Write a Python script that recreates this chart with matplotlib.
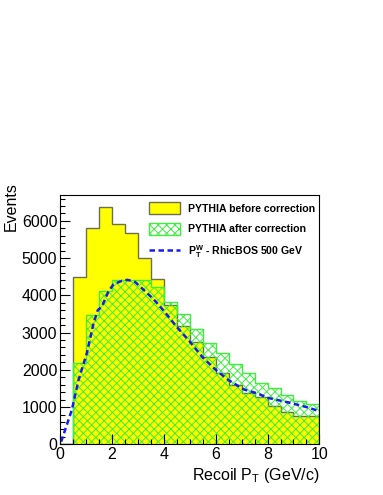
import numpy as np
import matplotlib
matplotlib.use('Agg')
import matplotlib.pyplot as plt
from matplotlib.patches import Patch
from matplotlib.lines import Line2D
from matplotlib.ticker import MultipleLocator

plt.rcParams['font.family'] = ['Liberation Sans', 'DejaVu Sans']
plt.rcParams['hatch.linewidth'] = 0.7

# bin edges: 0..10 GeV/c in 0.5 steps
edges = np.arange(0, 10.01, 0.5)

# PYTHIA before correction (yellow)
before = [0, 4490, 5800, 6370, 5930, 5670, 5010, 4430, 3740, 3165, 2755, 2350,
          1925, 1600, 1365, 1265, 1035, 870, 760, 750]

# PYTHIA after correction (green hatch)
after = [0, 2175, 3465, 4110, 4414, 4414, 4414, 4217, 3832, 3490, 3090, 2720,
         2446, 2165, 1908, 1640, 1505, 1325, 1150, 1083]

# RhicBOS 500 GeV W pT curve
curve_x = [0.04, 0.45, 0.71, 1.03, 1.29, 1.45, 1.61, 1.86, 2.06, 2.38, 2.6, 2.89,
           3.15, 3.6, 3.98, 4.5, 5.0, 5.5, 6.0, 6.5, 7.1, 7.6, 8.0, 8.9, 9.5, 10.0]
curve_y = [70, 922, 1728, 2446, 3253, 3600, 3700, 4100, 4300, 4390, 4417, 4360,
           4193, 3900, 3600, 3150, 2758, 2330, 2000, 1720, 1470, 1370, 1250, 1110, 1000, 890]

yellow = '#ffff00'
green = '#3cf03c'
blue = '#1a1aee'

fig = plt.figure(figsize=(3.83, 4.95), dpi=100)
ax = fig.add_axes([0.157, 0.1024, 0.677, 0.504])

ax.stairs(before, edges, fill=True, facecolor=yellow, edgecolor='none')
ax.stairs(before, edges, color='#6e6e50', lw=1.0)
ax.stairs(after, edges, fill=True, facecolor='none', edgecolor=green,
          hatch='xxxx', lw=1.0)
ax.plot(curve_x, curve_y, color=blue, lw=1.8, ls=(0, (2.2, 1.4)))

ax.set_xlim(0, 10)
ax.set_ylim(0, 6700)

ax.xaxis.set_major_locator(MultipleLocator(2))
ax.xaxis.set_minor_locator(MultipleLocator(0.5))
ax.yaxis.set_major_locator(MultipleLocator(1000))
ax.yaxis.set_minor_locator(MultipleLocator(200))
ax.tick_params(which='both', direction='in', top=False, right=False,
               labelsize=11.5, colors='black')
ax.tick_params(which='major', length=7, width=0.8, pad=2)
ax.tick_params(which='minor', length=3.5, width=0.8)
for s in ax.spines.values():
    s.set_linewidth(0.8)

ax.set_xlabel('Recoil P$_\\mathregular{T}$ (GeV/c)', fontsize=11.5, loc='right', labelpad=3)
ax.set_ylabel('Events', fontsize=11.5, loc='top')
ax.yaxis.set_label_coords(-0.16, 1.052)

handles = [
    Patch(facecolor=yellow, edgecolor='#6e6e50', lw=1.0),
    Patch(facecolor='none', edgecolor=green, hatch='xxxx', lw=1.0),
    Line2D([], [], color=blue, lw=1.8, ls=(0, (2.2, 1.4))),
]
labels = ['PYTHIA before correction', 'PYTHIA after correction',
          'P$_\\mathregular{T}^\\mathregular{W}$ - RhicBOS 500 GeV']
ax.legend(handles, labels, loc='upper left', bbox_to_anchor=(0.315, 1.0),
          frameon=False, prop={'weight': 'bold', 'size': 7.6},
          handlelength=2.9, handleheight=1.4, labelspacing=0.8,
          handletextpad=0.8, borderaxespad=0.3)

fig.savefig('out.png', dpi=100)
